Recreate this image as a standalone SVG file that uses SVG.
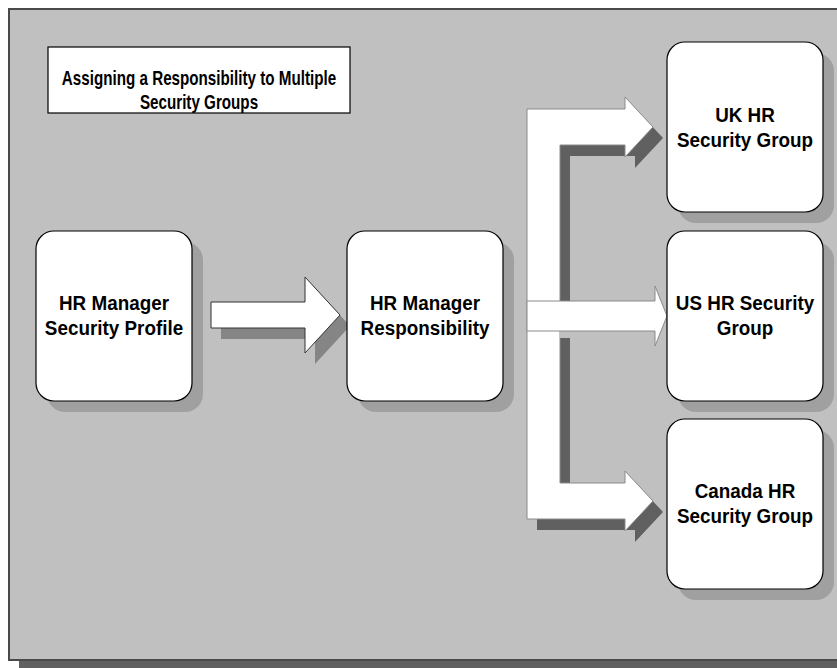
<svg xmlns="http://www.w3.org/2000/svg" width="837" height="668" viewBox="0 0 837 668">
  <style>
    .label { font-family: "Liberation Sans", Arial, sans-serif; font-weight: bold; font-size: 20.5px; fill: #000000; text-anchor: middle; }
    .title { font-size: 20px; }
    .card { fill: #ffffff; stroke: #000000; stroke-width: 1.2; }
    .shade { fill: #a0a0a0; }
  </style>
  <defs>
    <rect id="card" x="0" y="0" width="156" height="170" rx="18" ry="18"/>
  </defs>

  <!-- page background and panel -->
  <rect x="0" y="0" width="837" height="668" fill="#ffffff"/>
  <rect x="19" y="660" width="830" height="8" fill="#606060"/>
  <rect x="9" y="9" width="840" height="651" fill="#c0c0c0" stroke="#4a4a4a" stroke-width="2"/>

  <!-- title -->
  <g id="title">
    <rect x="48" y="47" width="302" height="66" fill="#ffffff" stroke="#000000" stroke-width="1.2"/>
    <g transform="translate(199,0) scale(0.76,1)">
      <text class="label title" x="0" y="85">Assigning a Responsibility to Multiple</text>
      <text class="label title" x="0" y="109">Security Groups</text>
    </g>
  </g>

  <!-- connectors -->
  <g id="connectors">
    <!-- profile to responsibility -->
    <polygon points="221,313 315,313 315,288 350,326 315,364 315,339 221,339" fill="#858585"/>
    <polygon points="211,302 305,302 305,277 340,315 305,353 305,328 211,328" fill="#ffffff" stroke="#333333" stroke-width="1"/>
    <!-- branch to UK and Canada -->
    <polygon points="537,120 635,120 635,108 663,138 635,168 635,156 570,156 570,494 635,494 635,482 663,512 635,542 635,530 537,530" fill="#606060"/>
    <polygon points="527,109 625,109 625,97 653,127 625,157 625,145 560,145 560,483 625,483 625,471 653,501 625,531 625,519 527,519" fill="#ffffff" stroke="#8a8a8a" stroke-width="1"/>
    <!-- branch to US -->
    <rect x="560" y="331" width="10" height="7" fill="#c0c0c0"/>
    <polygon points="527,301 655,301 655,286 667,316 655,346 655,331 527,331" fill="#ffffff" stroke="#8a8a8a" stroke-width="1"/>
  </g>

  <!-- nodes -->
  <g id="profile" transform="translate(36,231)">
    <use href="#card" class="shade" x="11" y="11"/>
    <use href="#card" class="card"/>
    <g transform="translate(78,0) scale(0.92,1)">
      <text class="label" x="0" y="79">HR Manager</text>
      <text class="label" x="0" y="104">Security Profile</text>
    </g>
  </g>

  <g id="responsibility" transform="translate(347,231)">
    <use href="#card" class="shade" x="11" y="11"/>
    <use href="#card" class="card"/>
    <g transform="translate(78,0) scale(0.92,1)">
      <text class="label" x="0" y="79">HR Manager</text>
      <text class="label" x="0" y="104">Responsibility</text>
    </g>
  </g>

  <g id="uk-group" transform="translate(667,42)">
    <use href="#card" class="shade" x="11" y="11"/>
    <use href="#card" class="card"/>
    <g transform="translate(78,0) scale(0.92,1)">
      <text class="label" x="0" y="80">UK HR</text>
      <text class="label" x="0" y="105">Security Group</text>
    </g>
  </g>

  <g id="us-group" transform="translate(667,231)">
    <use href="#card" class="shade" x="11" y="11"/>
    <use href="#card" class="card"/>
    <g transform="translate(78,0) scale(0.92,1)">
      <text class="label" x="0" y="79">US HR Security</text>
      <text class="label" x="0" y="104">Group</text>
    </g>
  </g>

  <g id="canada-group" transform="translate(667,419)">
    <use href="#card" class="shade" x="11" y="11"/>
    <use href="#card" class="card"/>
    <g transform="translate(78,0) scale(0.92,1)">
      <text class="label" x="0" y="79">Canada HR</text>
      <text class="label" x="0" y="104">Security Group</text>
    </g>
  </g>
</svg>
